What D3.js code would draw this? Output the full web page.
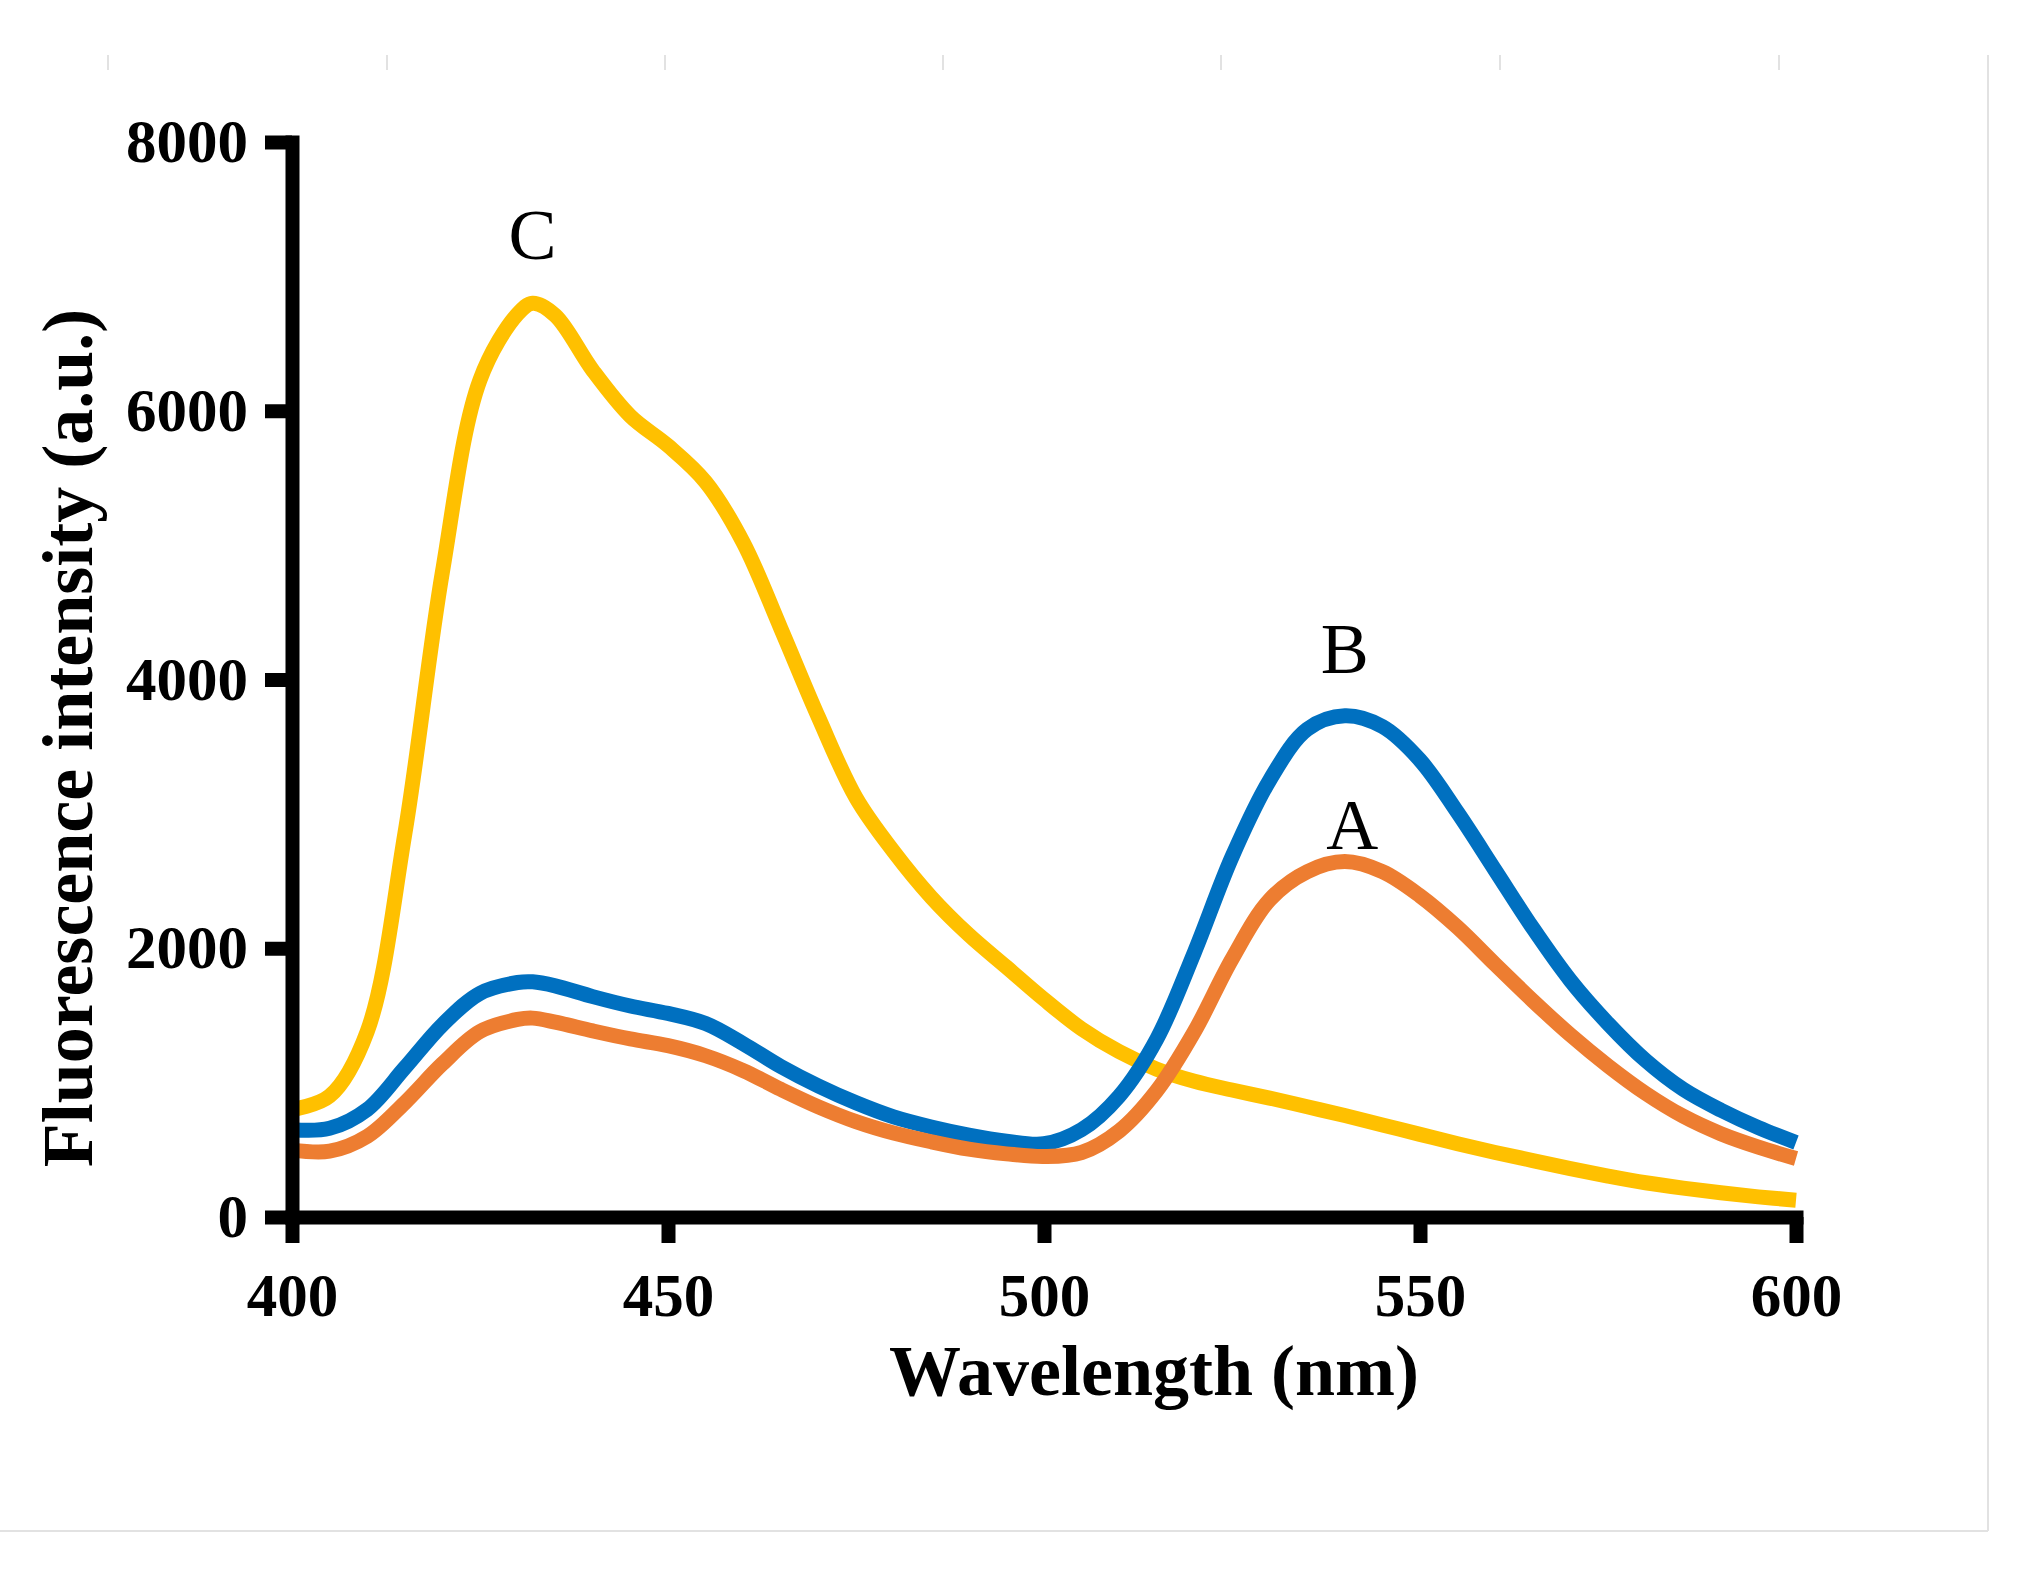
<!DOCTYPE html>
<html>
<head>
<meta charset="utf-8">
<script src="https://cdn.jsdelivr.net/npm/d3@7"></script>
<style>
  html, body { margin: 0; padding: 0; background: #ffffff; }
  svg { display: block; }
</style>
</head>
<body>
<svg id="chart" width="2036" height="1577"></svg>
<script>
// ---------------- DATA ----------------
const wavelengths = [400,405,410,415,420,425,430,432,435,440,445,450,455,460,465,470,475,480,485,490,495,500,
                     505,510,515,520,525,530,535,540,545,550,555,560,565,570,575,580,585,590,595,600];

// Curve A (orange)
const seriesA = [500,490,600,850,1140,1380,1470,1480,1450,1385,1325,1275,1200,1090,950,820,710,625,560,505,470,450,
                 480,640,940,1380,1920,2360,2570,2645,2570,2390,2155,1880,1610,1355,1125,920,750,620,520,435];
// Curve B (blue)
const seriesB = [650,660,800,1110,1430,1665,1745,1750,1720,1640,1570,1515,1440,1290,1120,975,850,745,670,610,565,545,
                 650,900,1325,1970,2680,3250,3630,3730,3650,3400,3010,2580,2150,1760,1440,1165,950,795,665,555];
// Curve C (yellow)
const seriesC = [800,900,1380,2850,4800,6230,6720,6800,6710,6300,5960,5740,5470,5020,4380,3720,3120,2720,2380,2100,1860,1620,
                 1400,1230,1100,1010,945,885,820,755,685,615,545,480,420,360,305,255,215,180,150,125];

const seriesNames  = ["A", "B", "C"];
const seriesColors = ["#ED7D31", "#0070C0", "#FFC000"];

// Peak annotations (wavelength, intensity of label baseline)
const labelWl  = [541, 540, 432];
const labelVal = [2740, 4050, 7130];

const xTicks = [400, 450, 500, 550, 600];
const yTicks = [0, 2000, 4000, 6000, 8000];

const xTitle = "Wavelength (nm)";
const yTitle = "Fluorescence intensity (a.u.)";

// ---------------- CHART ----------------
const svg = d3.select("#chart");
const serif = "'Liberation Serif', 'Times New Roman', Times, serif";

// faint page decoration (grey marks and frame)
const deco = svg.append("g").attr("stroke", "#e2e2e2").attr("stroke-width", 2).attr("fill", "none");
[108, 387, 665, 943, 1221, 1500, 1779].forEach(px => {
  deco.append("line").attr("x1", px).attr("x2", px).attr("y1", 55).attr("y2", 70);
});
deco.append("line").attr("x1", 1988).attr("x2", 1988).attr("y1", 55).attr("y2", 1531);
deco.append("line").attr("x1", 0).attr("x2", 1988).attr("y1", 1531).attr("y2", 1531);

const x = d3.scaleLinear().domain([400, 600]).range([292, 1796]);
const y = d3.scaleLinear().domain([0, 8000]).range([1217, 142]);

const line = d3.line()
  .x((d, i) => x(wavelengths[i]))
  .y(d => y(d))
  .curve(d3.curveCatmullRom.alpha(0.5));

const allSeries = [seriesA, seriesB, seriesC];
// draw C first, then B, then A (A on top as in reference)
[2, 1, 0].forEach(k => {
  svg.append("path")
    .datum(allSeries[k])
    .attr("fill", "none")
    .attr("stroke", seriesColors[k])
    .attr("stroke-width", 15)
    .attr("stroke-linecap", "butt")
    .attr("stroke-linejoin", "round")
    .attr("d", line);
});

// axes
const xAxis = svg.append("g")
  .attr("transform", `translate(0,${y(0)})`)
  .call(d3.axisBottom(x).tickValues(xTicks).tickFormat(d3.format("d"))
        .tickSize(26).tickSizeOuter(0).tickPadding(30));
const yAxis = svg.append("g")
  .attr("transform", `translate(${x(400)},0)`)
  .call(d3.axisLeft(y).tickValues(yTicks).tickFormat(d3.format("d"))
        .tickSize(27).tickSizeOuter(0).tickPadding(17));

[xAxis, yAxis].forEach(g => {
  g.select(".domain").attr("stroke", "#000").attr("stroke-width", 14).attr("stroke-linecap", "square");
  g.selectAll(".tick line").attr("stroke", "#000").attr("stroke-width", 14);
  g.selectAll(".tick text")
    .attr("fill", "#000")
    .attr("font-family", serif)
    .attr("font-weight", "bold")
    .attr("font-size", 61);
});

// axis titles
svg.append("text")
  .attr("x", 1154).attr("y", 1395)
  .attr("text-anchor", "middle")
  .attr("font-family", serif).attr("font-weight", "bold").attr("font-size", 72)
  .attr("fill", "#000")
  .text(xTitle);

svg.append("text")
  .attr("transform", "translate(92,738) rotate(-90)")
  .attr("text-anchor", "middle")
  .attr("font-family", serif).attr("font-weight", "bold").attr("font-size", 72)
  .attr("fill", "#000")
  .text(yTitle);

// curve labels
seriesNames.forEach((name, k) => {
  svg.append("text")
    .attr("x", x(labelWl[k])).attr("y", y(labelVal[k]))
    .attr("text-anchor", "middle")
    .attr("font-family", serif).attr("font-size", 72)
    .attr("fill", "#000")
    .text(name);
});
</script>
</body>
</html>
